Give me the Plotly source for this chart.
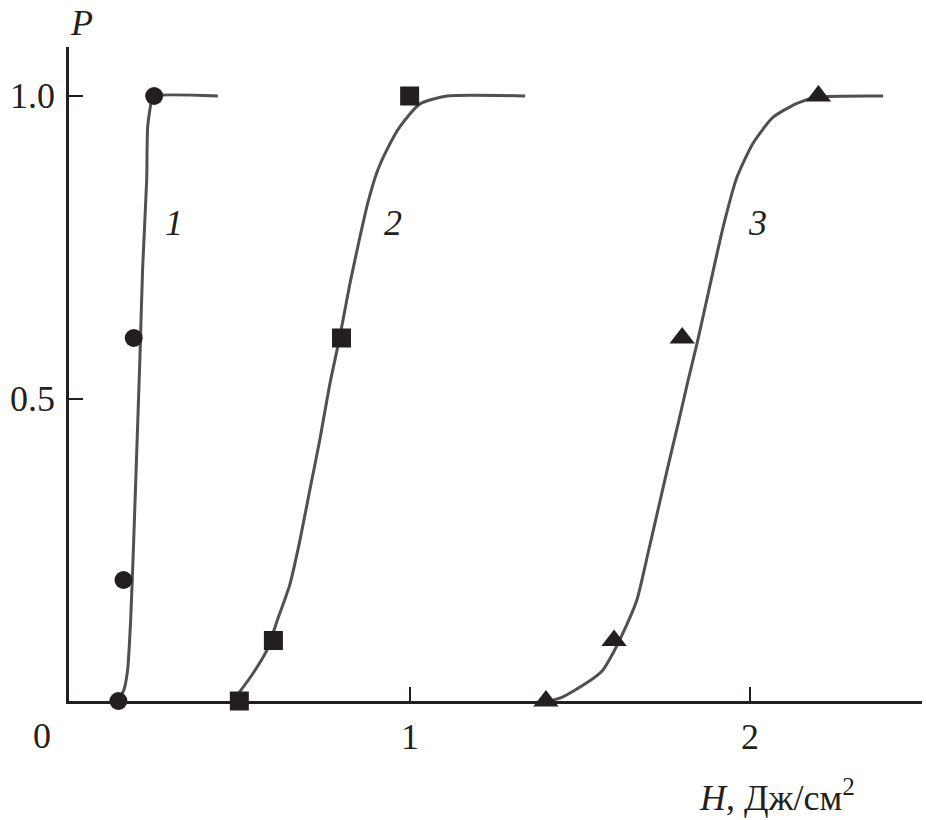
import plotly.graph_objects as go

# ---- data ----
# fitted curves (H, P)
curve1_h = [0.143, 0.161, 0.172, 0.181, 0.190, 0.199, 0.208, 0.216, 0.228, 0.231, 0.243, 0.252, 0.437]
curve1_p = [0.0, 0.018, 0.051, 0.134, 0.266, 0.415, 0.564, 0.713, 0.861, 0.949, 0.993, 1.0, 1.0]

curve2_h = [0.490, 0.537, 0.581, 0.610, 0.648, 0.678, 0.707, 0.736, 0.765, 0.795, 0.824,
            0.854, 0.877, 0.904, 0.933, 0.971, 1.030, 1.109, 1.339]
curve2_p = [0.007, 0.043, 0.084, 0.131, 0.192, 0.266, 0.349, 0.431, 0.522, 0.602, 0.688,
            0.767, 0.823, 0.874, 0.911, 0.949, 0.987, 1.0, 1.0]

curve3_h = [1.412, 1.450, 1.520, 1.567, 1.597, 1.626, 1.667, 1.700, 1.729, 1.758, 1.788,
            1.817, 1.844, 1.867, 1.891, 1.920, 1.961, 2.008, 2.067, 2.137, 2.196, 2.390]
curve3_p = [0.0, 0.007, 0.030, 0.051, 0.079, 0.112, 0.167, 0.245, 0.316, 0.387, 0.458,
            0.529, 0.592, 0.650, 0.711, 0.783, 0.866, 0.922, 0.965, 0.988, 0.998, 1.0]

# measured points
pts1_h = [0.145, 0.16, 0.19, 0.25]
pts1_p = [0.0, 0.2, 0.6, 1.0]
pts2_h = [0.5, 0.6, 0.8, 1.0]
pts2_p = [0.0, 0.1, 0.6, 1.0]
pts3_h = [1.4, 1.6, 1.8, 2.2]
pts3_p = [0.0, 0.1, 0.6, 1.0]

# curve labels
curve_labels = ["1", "2", "3"]
curve_label_h = [0.308, 0.95, 2.02]
curve_label_p = [0.79, 0.79, 0.79]

# tick labels
x_tick_vals = [1, 2]
x_tick_text = ["1", "2"]
y_tick_vals = [0.5, 1.0]
y_tick_text = ["0.5", "1.0"]

INK = "#231f20"
LINE = "#505050"
FONT = "Liberation Serif"
FS = 36

fig = go.Figure()

for h, p in [(curve1_h, curve1_p), (curve2_h, curve2_p), (curve3_h, curve3_p)]:
    fig.add_trace(go.Scatter(x=h, y=p, mode="lines",
                             line=dict(color=LINE, width=3, shape="spline", smoothing=0.6),
                             showlegend=False, hoverinfo="skip", cliponaxis=False))

fig.add_trace(go.Scatter(x=pts1_h, y=pts1_p, mode="markers",
                         marker=dict(symbol="circle", size=18, color=INK),
                         showlegend=False, cliponaxis=False))
fig.add_trace(go.Scatter(x=pts2_h, y=pts2_p, mode="markers",
                         marker=dict(symbol="square", size=19, color=INK),
                         showlegend=False, cliponaxis=False))
fig.add_trace(go.Scatter(x=pts3_h, y=pts3_p, mode="markers",
                         marker=dict(symbol="triangle-up", size=22, color=INK),
                         showlegend=False, cliponaxis=False))

annotations = []
for t, h, p in zip(curve_labels, curve_label_h, curve_label_p):
    annotations.append(dict(x=h, y=p, xref="x", yref="y", text=f"<i>{t}</i>",
                            showarrow=False, font=dict(family=FONT, size=FS, color=INK)))

for v, t in zip(x_tick_vals, x_tick_text):
    annotations.append(dict(x=v, y=0, xref="x", yref="y", text=t, showarrow=False,
                            yshift=-36, font=dict(family=FONT, size=FS, color=INK)))
for v, t in zip(y_tick_vals, y_tick_text):
    annotations.append(dict(x=0, y=v, xref="x", yref="y", text=t, showarrow=False,
                            xanchor="right", xshift=-12, font=dict(family=FONT, size=FS, color=INK)))
# origin label
annotations.append(dict(x=0, y=0, xref="x", yref="y", text="0", showarrow=False,
                        xshift=-27, yshift=-35, font=dict(family=FONT, size=FS, color=INK)))
# axis titles (paper coordinates so they are not hidden outside the axis range)
annotations.append(dict(x=0.015, y=1.036, xref="paper", yref="paper", text="<i>P</i>",
                        xanchor="center", yanchor="middle",
                        showarrow=False, font=dict(family=FONT, size=FS, color=INK)))
annotations.append(dict(x=0.830, y=-0.144, xref="paper", yref="paper",
                        xanchor="center", yanchor="middle",
                        text="<i>H</i>, Дж/см<sup>2</sup>", showarrow=False,
                        font=dict(family=FONT, size=FS, color=INK)))

fig.update_layout(
    width=926, height=820,
    margin=dict(l=69, r=4, t=47, b=119),
    paper_bgcolor="white", plot_bgcolor="white",
    annotations=annotations,
    xaxis=dict(range=[0, 2.504], showgrid=False, zeroline=False,
               showline=True, linecolor=INK, linewidth=2.5,
               ticks="inside", tickvals=x_tick_vals, ticklen=14, tickwidth=2.2,
               tickcolor=INK, showticklabels=False),
    yaxis=dict(range=[0, 1.081], showgrid=False, zeroline=False,
               showline=True, linecolor=INK, linewidth=2.5,
               ticks="inside", tickvals=y_tick_vals, ticklen=14, tickwidth=2.2,
               tickcolor=INK, showticklabels=False),
)

fig.write_html("out.html", config={"displayModeBar": False},
               post_script="document.body.style.margin='0';")
